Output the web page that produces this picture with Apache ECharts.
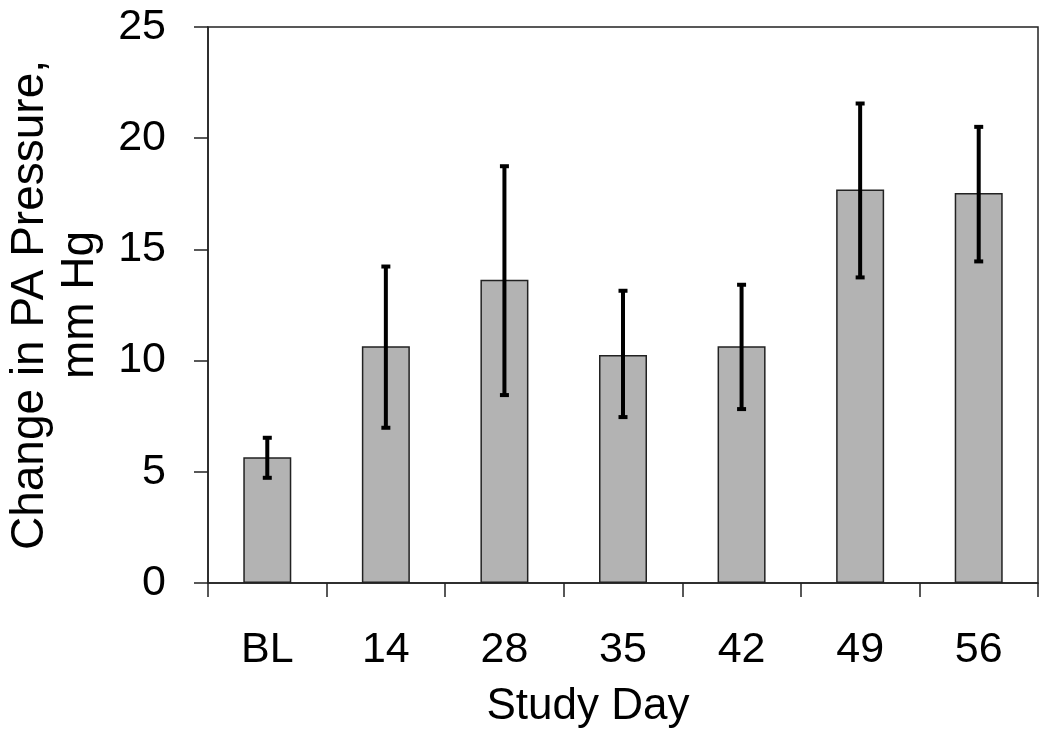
<!DOCTYPE html>
<html>
<head>
<meta charset="utf-8">
<script src="https://cdn.jsdelivr.net/npm/echarts@6/dist/echarts.min.js"></script>
<style>html,body{margin:0;padding:0;background:#fff;}#c{width:1050px;height:736px;}</style>
</head>
<body>
<div id="c"></div>
<script>
const categories = ['BL', '14', '28', '35', '42', '49', '56'];
const means = [5.65, 10.65, 13.63, 10.25, 10.65, 17.69, 17.54];
const errLow = [4.73, 6.98, 8.45, 7.46, 7.82, 13.74, 14.46];
const errHigh = [6.53, 14.23, 18.74, 13.14, 13.41, 21.56, 20.51];
const yTicks = [0, 5, 10, 15, 20, 25];

const chart = echarts.init(document.getElementById('c'));
const font = 'Liberation Sans, Arial, sans-serif';
const errData = categories.map((c, i) => [i, errLow[i], errHigh[i]]);

chart.setOption({
  animation: false,
  backgroundColor: '#fff',
  grid: { left: 208, right: 12, top: 27, bottom: 153, show: true, borderColor: '#222', borderWidth: 1.5, backgroundColor: 'transparent', containLabel: false, outerBoundsMode: 'none' },
  xAxis: {
    type: 'category',
    data: categories,
    name: 'Study Day',
    nameLocation: 'middle',
    nameGap: 102,
    nameTextStyle: { fontFamily: font, fontSize: 44, color: '#000', padding: [0, 70, 0, 0] },
    axisLine: { lineStyle: { color: '#222', width: 1.5 } },
    axisTick: { show: true, length: 14, lineStyle: { color: '#222', width: 1.5 } },
    axisLabel: { fontFamily: font, fontSize: 43, color: '#000', margin: 46 },
    splitLine: { show: false }
  },
  yAxis: {
    type: 'value',
    min: yTicks[0],
    max: yTicks[yTicks.length - 1],
    interval: 5,
    name: 'Change in PA Pressure,\nmm Hg',
    nameLocation: 'middle',
    nameRotate: 90,
    nameGap: 103,
    nameTextStyle: { fontFamily: font, fontSize: 46, color: '#000', lineHeight: 50 },
    axisLine: { show: true, lineStyle: { color: '#222', width: 1.5 } },
    axisTick: { show: true, length: 14, lineStyle: { color: '#222', width: 1.5 } },
    axisLabel: { fontFamily: font, fontSize: 43, color: '#000', margin: 42 },
    splitLine: { show: false }
  },
  series: [
    {
      type: 'bar',
      data: means,
      barWidth: 48,
      itemStyle: { color: '#b3b3b3', borderColor: '#222', borderWidth: 1.5 },
      z: 2
    },
    {
      type: 'custom',
      data: errData,
      z: 5,
      renderItem: function (params, api) {
        const x = api.value(0);
        const lo = api.coord([x, api.value(1)]);
        const hi = api.coord([x, api.value(2)]);
        const cw = 4.5;
        return {
          type: 'group',
          children: [
            { type: 'line', shape: { x1: lo[0], y1: lo[1], x2: hi[0], y2: hi[1] }, style: { stroke: '#000', lineWidth: 4 } },
            { type: 'line', shape: { x1: lo[0] - cw, y1: lo[1], x2: lo[0] + cw, y2: lo[1] }, style: { stroke: '#000', lineWidth: 4 } },
            { type: 'line', shape: { x1: hi[0] - cw, y1: hi[1], x2: hi[0] + cw, y2: hi[1] }, style: { stroke: '#000', lineWidth: 4 } }
          ]
        };
      }
    }
  ]
});
</script>
</body>
</html>
